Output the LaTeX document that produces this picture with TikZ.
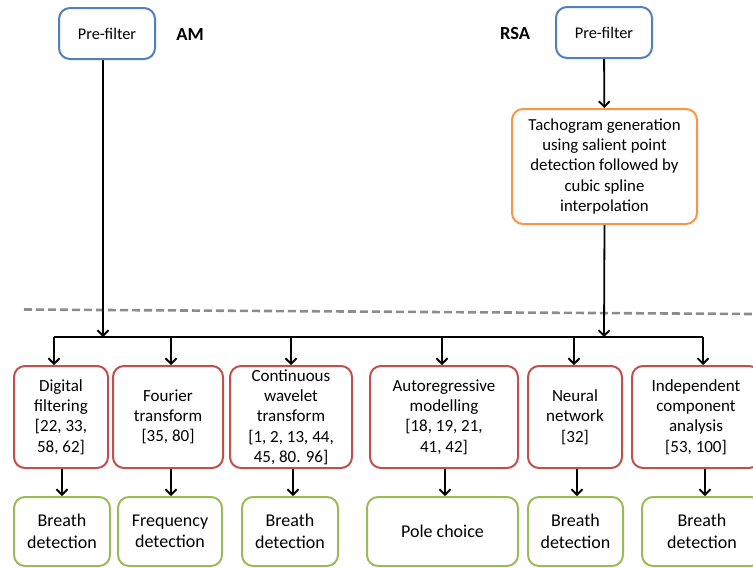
\documentclass[tikz,border=0pt]{standalone}
\usepackage{fontspec}
\setmainfont{Carlito}
\usetikzlibrary{arrows.meta}
\definecolor{boxblue}{RGB}{79,129,189}
\definecolor{boxorange}{RGB}{247,150,70}
\definecolor{boxred}{RGB}{192,80,77}
\definecolor{boxgreen}{RGB}{155,187,89}
\definecolor{sepgray}{RGB}{140,140,140}
\begin{document}
\begin{tikzpicture}[x=1pt,y=-1pt,
  box/.style={draw,line width=2pt,rounded corners=11pt,fill=white,inner sep=0pt,align=center,text=black},
  prebox/.style={box,draw=boxblue,minimum width=96pt,minimum height=51pt,font=\fontsize{16.3}{19}\selectfont},
  tachobox/.style={box,draw=boxorange,font=\fontsize{16.8}{20.3}\selectfont},
  methodbox/.style={box,draw=boxred,minimum height=102pt,font=\fontsize{17}{20.3}\selectfont},
  resultbox/.style={box,draw=boxgreen,minimum height=69pt,font=\fontsize{18}{21.5}\selectfont},
  lbl/.style={font=\fontsize{18.5}{22}\selectfont\bfseries},
  conn/.style={line width=1.8pt,black},
  arr/.style={conn,-{Straight Barb[length=5.5pt,width=11pt]}}
]
\useasboundingbox (0,0) rectangle (753,568);

% inputs
\node[prebox] (preAM) at (107,33.5) {Pre-filter};
\node[lbl] (am) at (190,34) {AM};
\node[lbl] (rsa) at (515,33) {RSA};
\node[prebox] (preRSA) at (604,32.5) {Pre-filter};
\node[tachobox,minimum width=185pt,minimum height=115pt] (tacho) at (604.5,166.5)
  {Tachogram generation\\using salient point\\detection followed by\\cubic spline\\interpolation};

% separator
\coordinate (sepL) at (24,309.5);
\coordinate (sepR) at (753,314);
\draw[sepgray,line width=2.6pt,dash pattern=on 8pt off 4pt] (sepL) -- (sepR);

% method boxes
\node[methodbox,minimum width=94pt]  (r1) at (61,417)  {Digital\\filtering\\{[22, 33,}\\58, 62]};
\node[methodbox,minimum width=110pt] (r2) at (168,417) {Fourier\\transform\\{[35, 80]}};
\node[methodbox,minimum width=122pt] (r3) at (291,417) {Continuous\\wavelet\\transform\\{[1, 2, 13, 44,}\\45, 80. 96]};
\node[methodbox,minimum width=148pt] (r4) at (444,417) {Autoregressive\\modelling\\{[18, 19, 21,}\\41, 42]};
\node[methodbox,minimum width=94pt]  (r5) at (575,417) {Neural\\network\\{[32]}};
\node[methodbox,minimum width=128pt] (r6) at (696,417) {Independent\\component\\analysis\\{[53, 100]}};

% outputs
\node[resultbox,minimum width=96pt]  (g1) at (62,531.5)  {Breath\\detection};
\node[resultbox,minimum width=104pt] (g2) at (170,531.5) {Frequency\\detection};
\node[resultbox,minimum width=96pt]  (g3) at (290,531.5) {Breath\\detection};
\node[resultbox,minimum width=151pt] (g4) at (442.5,531.5) {Pole choice};
\node[resultbox,minimum width=95pt]  (g5) at (575.5,531.5) {Breath\\detection};
\node[resultbox,minimum width=120pt] (g6) at (702,531.5) {Breath\\detection};

% distribution bus
\coordinate (d1) at (54,337);
\coordinate (d2) at (171,337);
\coordinate (d3) at (291,337);
\coordinate (d4) at (442,337);
\coordinate (d5) at (574,337);
\coordinate (d6) at (703,337);
\coordinate (amin) at (103,337);
\coordinate (rsain) at (604,337);
\draw[conn] (d1) -- (d6);

\draw[arr] ([xshift=-4pt]preAM.south) -- (amin);
\draw[arr] (preRSA) -- (tacho);
\draw[arr] (tacho.south) -- (rsain);

\foreach \i in {1,...,6}{
  \draw[arr] (d\i) -- (d\i |- r\i.north);
}
\draw[arr] (r1.south -| g1.north) -- (g1.north);
\draw[arr] ([xshift=1pt]r2.south -| g2.north) -- ([xshift=1pt]g2.north);
\draw[arr] ([xshift=3pt]r3.south -| g3.north) -- ([xshift=3pt]g3.north);
\draw[arr] ([xshift=2.5pt]r4.south -| g4.north) -- ([xshift=2.5pt]g4.north);
\draw[arr] ([xshift=1.5pt]r5.south -| g5.north) -- ([xshift=1.5pt]g5.north);
\draw[arr] ([xshift=3pt]r6.south -| g6.north) -- ([xshift=3pt]g6.north);
\end{tikzpicture}
\end{document}
